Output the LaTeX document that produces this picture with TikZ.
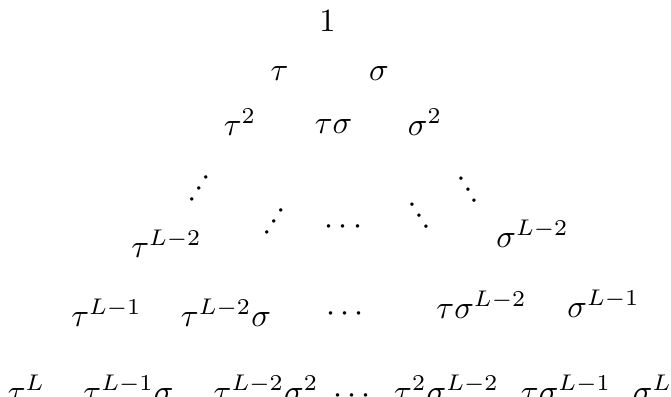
\documentclass[tikz,border=0pt]{standalone}
\usetikzlibrary{positioning}

% a short column of three text dots, centred on its middle dot
\newcommand{\dotcol}{\vbox{\baselineskip4pt\lineskiplimit0pt\hbox{.}\hbox{.}\hbox{.}}}

\begin{document}
\begin{tikzpicture}[
  x=0.3086pt, y=-0.3086pt,
  term/.style={anchor=base, inner sep=0pt},
  updots/.style={inner sep=0pt, rotate=-32},
  downdots/.style={inner sep=0pt, rotate=32}
]
  \useasboundingbox (0,0) rectangle (671,396);
  % degree 0 and 1
  \node[term] (one) at (327.5,31) {$1$};
  \node[term] (t1) at (279.5,80) {$\tau$};
  \node[term] (s1) at (379,80) {$\sigma$};
  % degree 2
  \node[term] (t2) at (240,135) {$\tau^2$};
  \node[term] (ts) at (333.5,133) {$\tau\sigma$};
  \node[term] (s2) at (425,135) {$\sigma^2$};
  \node[updots] (lup) at (199,188.5) {\dotcol};
  \node[downdots] (rdown) at (468,190) {\dotcol};
  % degree L-2
  \node[term] (tLtwo) at (166.5,257) {$\tau^{L-2}$};
  \node[updots] (midup) at (274.5,221) {\dotcol};
  \node[term] (dotsA) at (343.5,234) {$\cdots$};
  \node[downdots] (middown) at (419.5,216) {\dotcol};
  \node[term] (sLtwo) at (532.5,247) {$\sigma^{L-2}$};
  % degree L-1
  \node[term] (tLone) at (106.5,326) {$\tau^{L-1}$};
  \node[term] (tLtwos) at (226,326) {$\tau^{L-2}\sigma$};
  \node[term] (dotsB) at (345,321) {$\cdots$};
  \node[term] (tsLtwo) at (481.5,318) {$\tau\sigma^{L-2}$};
  \node[term] (sLone) at (603.5,317) {$\sigma^{L-1}$};
  % degree L
  \node[term] (tL) at (26.5,402) {$\tau^L$};
  \node[term] (tLones) at (128.5,402) {$\tau^{L-1}\sigma$};
  \node[term] (tLtwoss) at (266,402) {$\tau^{L-2}\sigma^2$};
  \node[term] (dotsC) at (352,403) {$\cdots$};
  \node[term] (ttsLtwo) at (446.5,402) {$\tau^2\sigma^{L-2}$};
  \node[term] (tsLone) at (566,402) {$\tau\sigma^{L-1}$};
  \node[term] (sL) at (652.5,402) {$\sigma^L$};
\end{tikzpicture}
\end{document}
